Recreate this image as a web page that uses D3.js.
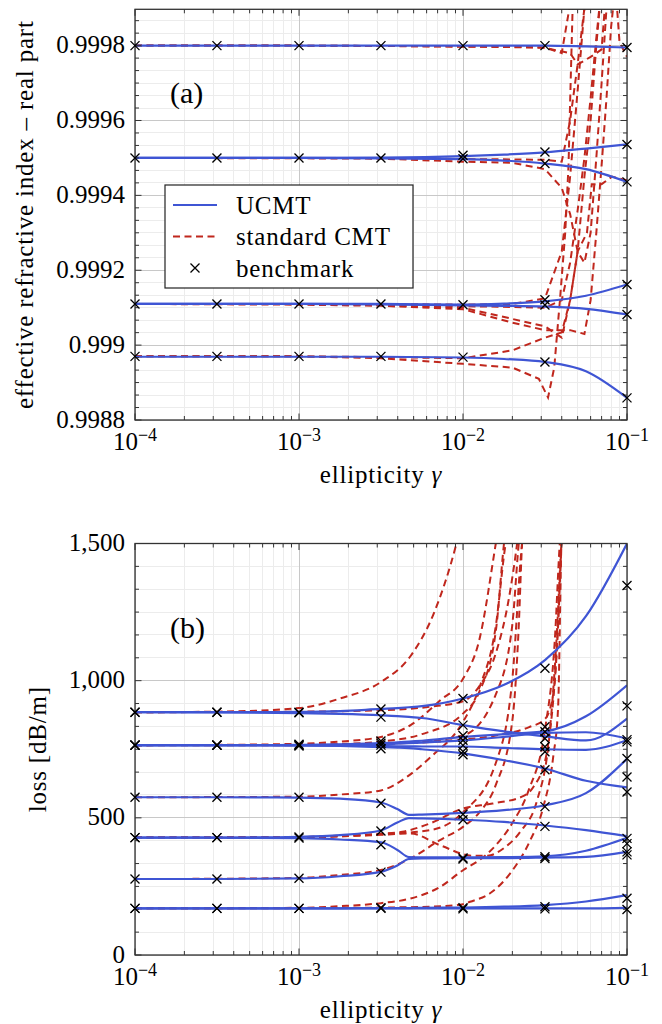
<!DOCTYPE html>
<html>
<head>
<meta charset="utf-8">
<script src="https://cdn.jsdelivr.net/npm/d3@7"></script>
<style>
  body { margin: 0; background: #fff; }
  svg { display: block; }
</style>
</head>
<body>
<svg id="chart" width="662" height="1024"></svg>
<script>
// ---------- data: panel (a), effective index (real part) ----------
const gammaA = [0.0001, 0.001, 0.00316, 0.01, 0.0178, 0.0316, 0.0562, 0.1];
const ucmtIndex = [
  [0.99980, 0.99980, 0.99980, 0.99980, 0.99980, 0.99980, 0.999798, 0.999795],
  [0.99950, 0.99950, 0.999501, 0.999505, 0.999509, 0.999515, 0.999525, 0.999536],
  [0.99950, 0.99950, 0.999499, 0.999497, 0.999493, 0.999485, 0.99947, 0.999436],
  [0.99911, 0.99911, 0.99911, 0.999108, 0.999111, 0.999117, 0.999132, 0.999162],
  [0.99911, 0.99911, 0.999109, 0.999106, 0.999105, 0.999103, 0.999097, 0.999082],
  [0.998969, 0.998969, 0.998969, 0.998967, 0.998963, 0.998955, 0.99893, 0.998859]
];
// standard CMT curves, [gamma, n_eff] pairs
const cmtIndex = [
  [[0.0001,0.99980],[0.001,0.99980],[0.00316,0.999799],[0.01,0.999797],[0.02,0.999797],[0.0316,0.999795],[0.04,0.99978],[0.047,0.99996]],
  [[0.0001,0.99980],[0.001,0.99980],[0.00316,0.999799],[0.01,0.999798],[0.02,0.999796],[0.0316,0.999794],[0.045,0.99978],[0.05,0.99975],[0.055,0.99976],[0.06,0.99977],[0.065,0.99978],[0.07,0.99979],[0.075,0.99996]],
  [[0.0001,0.99950],[0.001,0.99950],[0.00316,0.99950],[0.01,0.999497],[0.02,0.999496],[0.0316,0.999495],[0.04,0.99949],[0.045,0.99960],[0.05,0.99975],[0.055,0.99990],[0.06,0.99996],[0.085,0.99996],[0.09,0.99981],[0.1,0.99977]],
  [[0.0001,0.99950],[0.001,0.999499],[0.00316,0.999498],[0.01,0.99949],[0.02,0.999487],[0.0316,0.99947],[0.04,0.99942],[0.045,0.99935],[0.05,0.99925],[0.055,0.99922],[0.06,0.99930],[0.065,0.99950],[0.07,0.99970],[0.075,0.99990],[0.08,0.99996]],
  [[0.0001,0.99911],[0.001,0.99911],[0.00316,0.999108],[0.01,0.999104],[0.02,0.999102],[0.0316,0.99910],[0.04,0.99912],[0.045,0.99922],[0.05,0.99936],[0.055,0.99950],[0.06,0.99966],[0.065,0.99982],[0.07,0.99996]],
  [[0.0001,0.99911],[0.001,0.99911],[0.00316,0.999107],[0.01,0.99910],[0.02,0.99907],[0.0316,0.99905],[0.04,0.99902],[0.045,0.99912],[0.05,0.99925],[0.057,0.99930],[0.061,0.99943],[0.07,0.99943],[0.081,0.99945],[0.1,0.99944]],
  [[0.0001,0.99911],[0.001,0.999108],[0.00316,0.999105],[0.01,0.999096],[0.02,0.99906],[0.0316,0.99904],[0.045,0.99904],[0.055,0.99903],[0.06,0.99912],[0.065,0.99930],[0.07,0.99948],[0.075,0.99966],[0.08,0.99985],[0.085,0.99996]],
  [[0.0001,0.99911],[0.001,0.99911],[0.00316,0.99911],[0.01,0.999108],[0.02,0.99911],[0.0316,0.999125],[0.04,0.99925],[0.045,0.99945],[0.05,0.99968],[0.055,0.99990],[0.058,0.99996]],
  [[0.0001,0.99897],[0.001,0.99897],[0.00316,0.998965],[0.01,0.99895],[0.02,0.99894],[0.029,0.99891],[0.033,0.99886],[0.036,0.99894],[0.039,0.99912],[0.042,0.99930],[0.044,0.99948],[0.045,0.99965],[0.047,0.99996]],
  [[0.0001,0.99897],[0.001,0.99897],[0.00316,0.998968],[0.01,0.998965],[0.02,0.998986],[0.0316,0.99902],[0.04,0.999034],[0.045,0.99912],[0.05,0.99925],[0.055,0.99945],[0.06,0.99960],[0.065,0.99980],[0.07,0.99996]]
];
const benchGamma = [0.0001, 0.000316, 0.001, 0.00316, 0.01, 0.0316, 0.1];
const benchIndex = [
  [0.99980, 0.99950, 0.99911, 0.99897],
  [0.99980, 0.99950, 0.99911, 0.99897],
  [0.99980, 0.99950, 0.99911, 0.99897],
  [0.99980, 0.99950, 0.99911, 0.99897],
  [0.99980, 0.999507, 0.999498, 0.999108, 0.998968],
  [0.99980, 0.999516, 0.999485, 0.999121, 0.999107, 0.998955],
  [0.999795, 0.999536, 0.999436, 0.999162, 0.999082, 0.998859]
];

// ---------- data: panel (b), loss in dB/m ----------
const gammaB = [0.0001, 0.000316, 0.001, 0.00178, 0.00316, 0.00398, 0.00468, 0.00562, 0.01, 0.0178, 0.0316, 0.0562, 0.1];
const ucmtLoss = [
  [885, 885, 886, 889, 897, 900, 903, 907, 935, 985, 1075, 1235, 1500],
  [885, 884, 882, 879, 874, 871, 868, 864, 838, 815, 797, 782, 862],
  [765, 765, 766, 768, 772, 775, 778, 781, 795, 805, 815, 870, 983],
  [765, 765, 765, 766, 768, 770, 772, 774, 782, 795, 810, 812, 789],
  [765, 765, 764, 763, 762, 761, 761, 760, 760, 755, 750, 748, 783],
  [765, 765, 764, 762, 758, 756, 754, 750, 735, 710, 680, 635, 611],
  [575, 575, 574, 570, 556, 532, 511, 512, 518, 528, 546, 590, 715],
  [428, 428, 431, 437, 454, 483, 499, 498, 493, 485, 472, 455, 433],
  [428, 428, 426, 421, 411, 383, 357, 356, 356, 357, 360, 380, 427],
  [277, 277, 279, 287, 303, 326, 350, 352, 353, 353, 355, 358, 376],
  [170, 170, 170, 170, 171, 171, 171, 172, 173, 176, 182, 195, 218],
  [170, 170, 170, 170, 170, 170, 170, 170, 170, 170, 170, 170, 172]
];
const cmtLoss = [
  [[0.0001,885],[0.000316,887],[0.001,900],[0.00178,935],[0.00316,995],[0.00479,1090],[0.00661,1243],[0.00912,1500],[0.01047,1650]],
  [[0.0001,765],[0.000316,766],[0.001,770],[0.00178,778],[0.00316,795],[0.00479,838],[0.00724,928],[0.01,1007],[0.01259,1150],[0.01585,1500],[0.01738,1650]],
  [[0.0001,765],[0.001,766],[0.00178,769],[0.00316,778],[0.00562,805],[0.01,880],[0.01259,960],[0.01585,1180],[0.01778,1500],[0.01905,1650]],
  [[0.0001,575],[0.001,577],[0.00178,585],[0.00316,600],[0.00457,650],[0.00631,720],[0.01,850],[0.01259,975],[0.01585,1200],[0.0182,1500],[0.02089,1650]],
  [[0.0001,765],[0.001,765],[0.00316,770],[0.00562,778],[0.01,800],[0.01585,950],[0.01995,1200],[0.02188,1500],[0.02344,1650]],
  [[0.0001,428],[0.001,429],[0.00316,440],[0.00631,455],[0.01,520],[0.01585,700],[0.01995,1000],[0.02291,1500],[0.02512,1650]],
  [[0.0001,428],[0.001,430],[0.00178,435],[0.00316,442],[0.00427,449],[0.00631,480],[0.01,534],[0.01514,552],[0.02344,580],[0.02692,613],[0.03236,734],[0.03715,1147],[0.03981,1500],[0.04169,1650]],
  [[0.0001,428],[0.001,430],[0.00178,433],[0.00316,438],[0.00479,443],[0.00724,400],[0.01148,362],[0.01413,362],[0.01778,390],[0.02239,450],[0.02818,560],[0.03311,760],[0.03715,1100],[0.03981,1500],[0.04169,1650]],
  [[0.0001,277],[0.000316,278],[0.001,281],[0.00178,292],[0.00316,310],[0.00479,352],[0.00724,419],[0.01,467],[0.01259,520],[0.01585,620],[0.01995,850],[0.02188,1200],[0.02291,1500],[0.02399,1650]],
  [[0.0001,170],[0.001,172],[0.00178,178],[0.00316,189],[0.00479,206],[0.00724,248],[0.01,309],[0.01259,346],[0.01585,400],[0.01995,480],[0.02512,600],[0.0316,820],[0.03631,1150],[0.0389,1500],[0.04074,1650]],
  [[0.0001,170],[0.001,171],[0.00316,173],[0.00631,176],[0.01,185],[0.01104,194],[0.01462,225],[0.01936,297],[0.0257,418],[0.0309,540],[0.03548,722],[0.03802,904],[0.03981,1500],[0.04074,1650]],
  [[0.0001,765],[0.001,766],[0.00316,770],[0.01,785],[0.01585,800],[0.02512,830],[0.0316,860],[0.03548,950],[0.03802,1200],[0.03981,1500],[0.04074,1650]],
  [[0.0001,885],[0.001,887],[0.00316,892],[0.00631,905],[0.01,925],[0.01259,980],[0.01585,1100],[0.01905,1300],[0.02138,1500],[0.02291,1650]]
];
const benchLoss = [
  [885, 885, 765, 765, 765, 765, 575, 428, 428, 277, 170, 170],
  [885, 885, 765, 765, 765, 765, 575, 428, 428, 277, 170, 170],
  [885, 883, 768, 766, 764, 762, 575, 430, 426, 280, 170, 170],
  [897, 867, 780, 772, 765, 752, 553, 452, 402, 302, 172, 170],
  [935, 838, 800, 783, 764, 742, 730, 513, 493, 354, 350, 172, 168],
  [1045, 832, 814, 789, 759, 741, 675, 541, 469, 358, 352, 176, 168],
  [1347, 908, 785, 777, 716, 649, 594, 425, 406, 376, 365, 207, 166]
];

const indexTicks = [0.9988, 0.999, 0.9992, 0.9994, 0.9996, 0.9998];
const lossTicks = [0, 500, 1000, 1500];

// ---------- drawing ----------
const blue = "#3f55d4", red = "#c0271d";
const svg = d3.select("#chart");
const x = d3.scaleLog().domain([1e-4, 1e-1]).range([135, 627]);
const xAll = x.ticks();
const isDecade = d => Math.abs(Math.log10(d) - Math.round(Math.log10(d))) < 1e-9;
const xMajor = xAll.filter(isDecade), xMinor = xAll.filter(d => !isDecade(d));
const cross = "M-4.5,-4.5L4.5,4.5M4.5,-4.5L-4.5,4.5";

function serif(sel) {
  return sel.style("font-family", '"Liberation Serif", serif').attr("fill", "#000");
}

function drawPanel(p) {
  const g = svg.append("g");
  const y = d3.scaleLinear().domain(p.domain).range([p.bottom, p.top]);
  const [L, R] = x.range();
  const yMinor = d3.range(0, Math.floor((p.domain[1] - p.domain[0]) / p.minorStep + 1e-6) + 1)
    .map(i => p.domain[0] + i * p.minorStep);

  // grid
  const grid = g.append("g").attr("stroke-width", 1).attr("shape-rendering", "crispEdges");
  grid.selectAll(".vm").data(xMinor).join("line")
    .attr("x1", d => x(d)).attr("x2", d => x(d)).attr("y1", p.top).attr("y2", p.bottom).attr("stroke", "#ececec");
  grid.selectAll(".hm").data(yMinor).join("line")
    .attr("x1", L).attr("x2", R).attr("y1", d => y(d)).attr("y2", d => y(d)).attr("stroke", "#ececec");
  grid.selectAll(".vM").data(xMajor).join("line")
    .attr("x1", d => x(d)).attr("x2", d => x(d)).attr("y1", p.top).attr("y2", p.bottom).attr("stroke", "#c8c8c8");
  grid.selectAll(".hM").data(p.ticks).join("line")
    .attr("x1", L).attr("x2", R).attr("y1", d => y(d)).attr("y2", d => y(d)).attr("stroke", "#c8c8c8");

  // data
  const clipId = "clip-" + p.name;
  svg.append("clipPath").attr("id", clipId).append("rect")
    .attr("x", L).attr("y", p.top).attr("width", R - L).attr("height", p.bottom - p.top);
  const plot = g.append("g").attr("clip-path", `url(#${clipId})`);
  const redLine = d3.line().x(d => x(d[0])).y(d => y(d[1])).curve(p.redCurve);
  const blueLine = d3.line().x(d => x(d[0])).y(d => y(d[1])).curve(d3.curveMonotoneX);

  plot.selectAll(".cmt").data(p.red).join("path")
    .attr("d", redLine).attr("fill", "none").attr("stroke", red)
    .attr("stroke-width", 2).attr("stroke-dasharray", "7,4.5");
  plot.selectAll(".ucmt").data(p.blue.map(vals => vals.map((v, i) => [p.gamma[i], v]))).join("path")
    .attr("d", blueLine).attr("fill", "none").attr("stroke", blue).attr("stroke-width", 2.2);

  // frame + ticks
  const ax = g.append("g").attr("stroke", "#333").attr("stroke-width", 1);
  const tick = (xs, len) => xs.forEach(d => {
    ax.append("line").attr("x1", x(d)).attr("x2", x(d)).attr("y1", p.bottom).attr("y2", p.bottom - len);
    ax.append("line").attr("x1", x(d)).attr("x2", x(d)).attr("y1", p.top).attr("y2", p.top + len);
  });
  tick(xMinor, 4);
  tick(xMajor, 6.5);
  yMinor.forEach(d => {
    const len = p.ticks.some(t => Math.abs(t - d) < p.minorStep / 10) ? 6.5 : 4;
    ax.append("line").attr("x1", L).attr("x2", L + len).attr("y1", y(d)).attr("y2", y(d));
    ax.append("line").attr("x1", R).attr("x2", R - len).attr("y1", y(d)).attr("y2", y(d));
  });
  ax.append("rect").attr("x", L).attr("y", p.top).attr("width", R - L).attr("height", p.bottom - p.top)
    .attr("fill", "none").attr("stroke-width", 1.3);

  // benchmark crosses
  const pts = [];
  p.bench.forEach((vals, i) => vals.forEach(v => pts.push([benchGamma[i], v])));
  g.append("g").selectAll("path").data(pts).join("path")
    .attr("transform", d => `translate(${x(d[0])},${y(d[1])})`)
    .attr("d", cross).attr("stroke", "#000").attr("stroke-width", 1.3).attr("fill", "none");

  // tick labels
  g.selectAll(".yl").data(p.ticks).join("text")
    .attr("x", L - 10).attr("y", d => y(d) + 7.5).attr("text-anchor", "end")
    .attr("font-size", 25).call(serif).text(p.fmt);
  g.selectAll(".xl").data(xMajor).join("text")
    .attr("x", d => x(d)).attr("y", p.bottom + 30).attr("text-anchor", "middle").attr("font-size", 25)
    .call(serif)
    .each(function(d) {
      const t = d3.select(this);
      t.append("tspan").text("10");
      t.append("tspan").attr("dy", -9).attr("font-size", 18).text("\u2212" + (-Math.round(Math.log10(d))));
    });

  // axis titles
  const xt = g.append("text").attr("x", (L + R) / 2).attr("y", p.bottom + 63)
    .attr("text-anchor", "middle").attr("font-size", 25).attr("letter-spacing", 0.8).call(serif);
  xt.append("tspan").text("ellipticity ");
  xt.append("tspan").style("font-style", "italic").text("\u03b3");
  g.append("text")
    .attr("transform", `translate(${p.ylabelX},${(p.top + p.bottom) / 2}) rotate(-90)`)
    .attr("text-anchor", "middle").attr("font-size", 25).attr("letter-spacing", 0.8).call(serif)
    .text(p.ylabel);
  g.append("text").attr("x", 170).attr("y", p.top + 94).attr("font-size", 30).call(serif).text(p.tag);
  return g;
}

const ga = drawPanel({
  name: "a", domain: [0.9988, 0.999897], top: 9.3, bottom: 420,
  ticks: indexTicks, minorStep: 0.0002 / 6, fmt: d => String(+d.toFixed(4)),
  gamma: gammaA, blue: ucmtIndex, red: cmtIndex, redCurve: d3.curveLinear, bench: benchIndex,
  ylabel: "effective refractive index \u2013 real part", ylabelX: 33, tag: "(a)"
});
drawPanel({
  name: "b", domain: [0, 1500], top: 543.5, bottom: 955,
  ticks: lossTicks, minorStep: 500 / 6, fmt: d3.format(","),
  gamma: gammaB, blue: ucmtLoss, red: cmtLoss, redCurve: d3.curveMonotoneX, bench: benchLoss,
  ylabel: "loss [dB/m]", ylabelX: 46, tag: "(b)"
});

// legend in panel (a)
const leg = ga.append("g").attr("transform", "translate(165,185)");
leg.append("rect").attr("width", 248).attr("height", 103).attr("fill", "#fff")
  .attr("stroke", "#222").attr("stroke-width", 1.2);
const items = [
  { label: "UCMT", kind: "blue" },
  { label: "standard CMT", kind: "red" },
  { label: "benchmark", kind: "bench" }
];
items.forEach((it, i) => {
  const cy = 20 + i * 31.5;
  if (it.kind === "blue") {
    leg.append("line").attr("x1", 8).attr("x2", 52).attr("y1", cy).attr("y2", cy)
      .attr("stroke", blue).attr("stroke-width", 2.2);
  } else if (it.kind === "red") {
    leg.append("line").attr("x1", 8).attr("x2", 52).attr("y1", cy).attr("y2", cy)
      .attr("stroke", red).attr("stroke-width", 2).attr("stroke-dasharray", "7,4.5");
  } else {
    leg.append("path").attr("transform", `translate(30,${cy})`).attr("d", cross)
      .attr("stroke", "#000").attr("stroke-width", 1.3).attr("fill", "none");
  }
  leg.append("text").attr("x", 71).attr("y", cy + 8.5).attr("font-size", 25)
    .attr("letter-spacing", 0.8).call(serif).text(it.label);
});
</script>
</body>
</html>
